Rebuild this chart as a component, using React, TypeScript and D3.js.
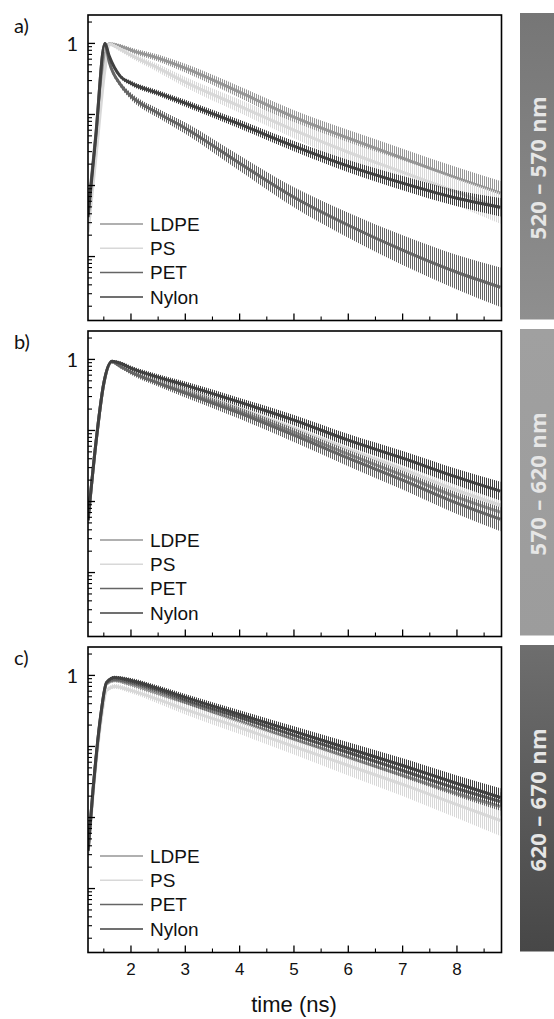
import React from 'react';
import * as d3 from 'd3';

// series names and colours (legend order)
const seriesNames = ['LDPE', 'PS', 'PET', 'Nylon'];
const seriesColors = ['#969696', '#d8d8d8', '#656565', '#404040'];

// panel a) 520-570 nm
const timesA = [1.21, 1.35, 1.52, 1.6, 1.8, 2, 2.5, 3, 4, 5, 6, 7, 8, 8.8];
const ldpeA = [0.00276, 0.037, 0.684, 0.99, 0.916, 0.805, 0.621, 0.449, 0.206, 0.0917, 0.0464, 0.0243, 0.0127, 0.0078];
const psA = [0.0022, 0.0227, 0.421, 0.977, 0.831, 0.684, 0.449, 0.285, 0.131, 0.0601, 0.0294, 0.0154, 0.00805, 0.00479];
const petA = [0.0042, 0.0495, 1.0, 0.545, 0.267, 0.181, 0.104, 0.0641, 0.0206, 0.00684, 0.00276, 0.00123, 0.000601, 0.00037];
const nylonA = [0.00358, 0.0464, 1.0, 0.663, 0.346, 0.276, 0.2, 0.144, 0.073, 0.0358, 0.0187, 0.0108, 0.00662, 0.00494];

// panel b) 570-620 nm
const timesB = [1.21, 1.35, 1.5, 1.65, 1.8, 2, 2.5, 3, 4, 5, 6, 7, 8, 8.8];
const ldpeB = [0.0053, 0.061, 0.455, 0.92, 0.805, 0.684, 0.479, 0.358, 0.187, 0.0946, 0.0464, 0.0235, 0.0115, 0.00707];
const psB = [0.0052, 0.06, 0.45, 0.92, 0.831, 0.707, 0.511, 0.382, 0.206, 0.108, 0.0545, 0.0285, 0.0144, 0.00887];
const petB = [0.0055, 0.0625, 0.464, 0.93, 0.805, 0.663, 0.464, 0.335, 0.175, 0.0859, 0.0407, 0.02, 0.00946, 0.00563];
const nylonB = [0.00545, 0.0621, 0.464, 0.94, 0.887, 0.754, 0.563, 0.435, 0.25, 0.14, 0.073, 0.0407, 0.022, 0.014];

// panel c) 620-670 nm
const timesC = [1.21, 1.3, 1.45, 1.55, 1.7, 2, 2.5, 3, 4, 5, 6, 7, 8, 8.8];
const ldpeC = [0.0033, 0.023, 0.285, 0.76, 0.85, 0.747, 0.558, 0.417, 0.225, 0.126, 0.07, 0.0391, 0.0218, 0.0143];
const psC = [0.003, 0.02, 0.233, 0.615, 0.7, 0.615, 0.459, 0.332, 0.185, 0.1, 0.054, 0.0292, 0.0152, 0.00907];
const petC = [0.0034, 0.0235, 0.295, 0.79, 0.878, 0.797, 0.615, 0.445, 0.256, 0.143, 0.0823, 0.0459, 0.0256, 0.0168];
const nylonC = [0.00343, 0.024, 0.301, 0.797, 0.937, 0.85, 0.656, 0.49, 0.282, 0.163, 0.0937, 0.054, 0.0301, 0.0191];

// spread of the noise spikes (multiplicative) read at the same time points
const noiseLow = [1, 1, 1, 1.05, 1.06, 1.08, 1.1, 1.12, 1.15, 1.18, 1.22, 1.26, 1.3, 1.35];
const noiseMid = [1, 1, 1, 1.05, 1.07, 1.09, 1.12, 1.15, 1.2, 1.25, 1.3, 1.36, 1.42, 1.48];
const noiseHigh = [1, 1, 1, 1.06, 1.08, 1.1, 1.14, 1.18, 1.24, 1.3, 1.38, 1.46, 1.55, 1.65];
const noiseTop = [1, 1, 1, 1.06, 1.09, 1.12, 1.16, 1.2, 1.28, 1.38, 1.5, 1.62, 1.75, 1.9];

const bandLabels = ['520 – 570 nm', '570 – 620 nm', '620 – 670 nm'];
const panelLetters = ['a)', 'b)', 'c)'];
const xTickValues = [2, 3, 4, 5, 6, 7, 8];
const xMinorValues = [1.5, 2.5, 3.5, 4.5, 5.5, 6.5, 7.5, 8.5];
const yMajorValues = [0.001, 0.01, 0.1, 1];

const panels = [
  { times: timesA, values: [ldpeA, psA, petA, nylonA], noise: [noiseMid, noiseHigh, noiseTop, noiseLow] },
  { times: timesB, values: [ldpeB, psB, petB, nylonB], noise: [noiseLow, noiseLow, noiseMid, noiseLow] },
  { times: timesC, values: [ldpeC, psC, petC, nylonC], noise: [noiseLow, noiseHigh, noiseLow, noiseLow] },
];

const bandFills = [
  ['#767676', '#8f8f8f'],
  ['#a0a0a0', '#9c9c9c'],
  ['#6e6e6e', '#474747'],
];

const yMinorValues: number[] = [];
for (let e = -4; e <= 0; e++) {
  for (let k = 2; k <= 9; k++) yMinorValues.push(k * Math.pow(10, e));
}

const App = () => {
  const left = 88;
  const right = 501.5;
  const ph = 305.5;
  const tops = [15, 331, 647];

  const x = d3.scaleLinear().domain([1.209, 8.82]).range([left, right]);
  const yDomain = [Math.pow(10, -3.9), Math.pow(10, 0.4)];

  return (
    <svg width={554} height={1019} style={{ position: 'absolute', left: 0, top: 0, background: '#fff' }}>
      <defs>
        {tops.map((top, i) => (
          <clipPath id={`clip${i}`} key={i}>
            <rect x={left} y={top} width={right - left} height={ph} />
          </clipPath>
        ))}
        {bandFills.map((c, i) => (
          <linearGradient id={`grad${i}`} key={i} x1="0" y1="0" x2="0" y2="1">
            <stop offset="0%" stopColor={c[0]} />
            <stop offset="100%" stopColor={c[1]} />
          </linearGradient>
        ))}
        {seriesColors.map((c, i) => (
          <pattern id={`hatch${i}`} key={i} width={2} height={6} patternUnits="userSpaceOnUse">
            <rect x={0} y={0} width={1} height={6} fill={c} />
          </pattern>
        ))}
      </defs>

      {panels.map((p, pi) => {
        const top = tops[pi];
        const bottom = top + ph;
        const y = d3.scaleLog().domain(yDomain).range([bottom, top]);
        const line = d3.line<number>()
          .x((_, i) => x(p.times[i]))
          .y((d) => y(d))
          .curve(d3.curveMonotoneX);
        return (
          <g key={pi}>
            <g clipPath={`url(#clip${pi})`}>
              {p.values.map((vals, si) => {
                const nz = p.noise[si];
                const area = d3.area<number>()
                  .x((_, i) => x(p.times[i]))
                  .y0((d, i) => y(d / nz[i]))
                  .y1((d, i) => y(d * nz[i]))
                  .curve(d3.curveMonotoneX);
                return (
                  <g key={si}>
                    <path d={area(vals) || ''} fill={`url(#hatch${si})`} />
                    <path d={line(vals) || ''} fill="none" stroke={seriesColors[si]} strokeWidth={3} strokeLinejoin="round" />
                  </g>
                );
              })}
            </g>

            {/* legend */}
            {seriesNames.map((name, si) => {
              const ly = top + 209 + si * 24.3;
              return (
                <g key={name}>
                  <line x1={100} x2={143} y1={ly} y2={ly} stroke={seriesColors[si]} strokeWidth={1.5} />
                  <text x={150} y={ly} dy="0.35em" fontFamily="'Liberation Sans', Arial, sans-serif" fontSize={19} fill="#111">
                    {name}
                  </text>
                </g>
              );
            })}

            {/* ticks */}
            {xTickValues.map((t) => (
              <line key={`xM${t}`} x1={x(t)} x2={x(t)} y1={bottom} y2={bottom - 7} stroke="#000" strokeWidth={1.3} />
            ))}
            {xMinorValues.map((t) => (
              <line key={`xm${t}`} x1={x(t)} x2={x(t)} y1={bottom} y2={bottom - 4} stroke="#000" strokeWidth={1.1} />
            ))}
            {yMajorValues.map((v) => (
              <line key={`yM${v}`} x1={left} x2={left + 7} y1={y(v)} y2={y(v)} stroke="#000" strokeWidth={1.3} />
            ))}
            {yMinorValues
              .filter((v) => v > yDomain[0] && v < yDomain[1])
              .map((v) => (
                <line key={`ym${v}`} x1={left} x2={left + 4} y1={y(v)} y2={y(v)} stroke="#000" strokeWidth={1.1} />
              ))}

            <rect x={left} y={top} width={right - left} height={ph} fill="none" stroke="#000" strokeWidth={1.6} />

            <text x={78} y={y(1)} dy="0.36em" textAnchor="end" fontFamily="Lato, sans-serif" fontSize={20} fill="#111">1</text>
            <text x={14} y={top + 18} fontFamily="Lato, sans-serif" fontSize={20} fill="#111">{panelLetters[pi]}</text>

            {/* wavelength band */}
            <rect x={520} y={top - 2} width={34} height={ph + 1} fill={`url(#grad${pi})`} />
            <text
              transform={`translate(${538},${top + ph / 2}) rotate(-90)`}
              textAnchor="middle"
              dy="0.36em"
              fontFamily="'Open Sans', sans-serif"
              fontWeight="bold"
              fontSize={22}
              letterSpacing={0.3}
              fill="#e6e6e6"
            >
              {bandLabels[pi]}
            </text>
          </g>
        );
      })}

      {xTickValues.map((t) => (
        <text key={`xl${t}`} x={x(t)} y={975} textAnchor="middle" fontFamily="'Liberation Sans', Arial, sans-serif" fontSize={17} fill="#111">
          {t}
        </text>
      ))}
      <text x={294} y={1012} textAnchor="middle" fontFamily="'Liberation Sans', Arial, sans-serif" fontSize={22} fill="#111">
        time (ns)
      </text>
    </svg>
  );
};

export default App;
